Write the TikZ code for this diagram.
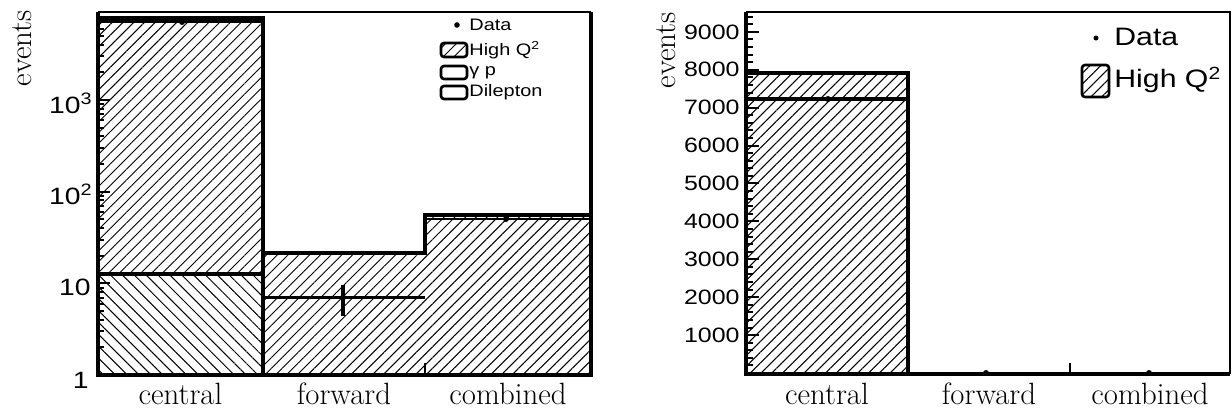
\documentclass[tikz,border=0pt]{standalone}
\usepackage{fontspec}
\newfontfamily\helv[FakeStretch=1.2]{Liberation Sans}
\usetikzlibrary{patterns.meta}
\tikzstyle{hist} = [line width=1.8pt]
\tikzstyle{thinline} = [line width=0.6pt]
\tikzstyle{tickline} = [line width=1pt]
\tikzstyle{hatchne} = [pattern={Lines[angle=45, distance=3.8pt, line width=0.5pt]}]
\tikzstyle{hatchnw} = [pattern={Lines[angle=-45, distance=4.2pt, line width=0.5pt]}]
\tikzstyle{binlabel} = [font=\fontsize{15.4}{18}\selectfont, anchor=base, inner sep=0pt]
\tikzstyle{axislabel} = [font=\fontsize{15.4}{18}\selectfont, rotate=90, anchor=base east, inner sep=0pt]
\tikzstyle{ticklabel} = [font=\helv\fontsize{11.8}{13}\selectfont, anchor=east, inner sep=0pt]
\tikzstyle{smalllegend} = [font=\helv\fontsize{8.3}{10}\selectfont, anchor=west, inner sep=0pt]
\tikzstyle{biglegend} = [font=\helv\fontsize{12.6}{14}\selectfont, anchor=west, inner sep=0pt]
\tikzstyle{legkey} = [draw, line width=1.3pt, rounded corners=1.5pt]
\tikzstyle{datadot} = [circle, fill=black, inner sep=0pt, minimum size=3pt]

\begin{document}
\begin{tikzpicture}[x=0.5pt, y=-0.5pt]
    \useasboundingbox (0,0) rectangle (1232,414);

    % Left panel: log scale
    \path[hatchnw] (98,375) rectangle (263,274);
    \path[hatchne] (98,274) rectangle (263,17.5);
    \path[hatchne] (263,375) rectangle (425,253);
    \path[hatchne] (425,375) rectangle (591,215);

    \draw[thinline] (98,12) -- (591,12);
    \draw[hist] (98,12) -- (98,375) -- (591,375) -- (591,12);
    \draw[hist] (98,17.5) -- (263,17.5) -- (263,375);
    \draw[hist] (263,253) -- (425,253) -- (425,215) -- (591,215);
    \draw[hist] (98,274) -- (263,274);
    \draw[thinline] (425,375) -- (425,363);

    % data, left
    \draw[hist] (98,21) -- (263,21);
    \draw[hist] (263,297.5) -- (425,297.5);
    \draw[hist] (343,285) -- (343,316);
    \draw[line width=1pt] (425,219) -- (591,219);
    \node[datadot] (lcentral) at (182,22) {};
    \node[datadot] (lforward) at (343,297.5) {};
    \node[datadot] (lcombined) at (506,219) {};

    % log ticks
    \foreach \d in {0,1,2,3}
        \draw[tickline] (98,{375-91.7*\d}) -- ++(12,0);
    \foreach \d in {0,1,2,3}
        \foreach \m in {2,...,9}
            \draw[tickline] (98,{375-91.7*(\d+log10(\m))}) -- ++(6,0);
    \node[ticklabel] (l1000) at (93,103) {10\textsuperscript{3}};
    \node[ticklabel] (l100) at (93,194) {10\textsuperscript{2}};
    \node[ticklabel] (l10) at (91,287) {10};
    \node[ticklabel] (l1) at (89,380) {1};

    \node[axislabel] (levents) at (32,10) {events};
    \node[binlabel] (lbin1) at (180.5,404) {central};
    \node[binlabel] (lbin2) at (344,404) {forward};
    \node[binlabel] (lbin3) at (508,404) {combined};

    % legend, left
    \node[datadot, minimum size=2.8pt] (ldatakey) at (457,25) {};
    \node[smalllegend] (ldata) at (469,25) {Data};
    \draw[legkey, hatchne] (441,43) rectangle (467,57);
    \node[smalllegend] (lhigh) at (469,50) {High Q\textsuperscript{2}};
    \draw[legkey] (441,66) rectangle (467,79);
    \node[smalllegend] (lgp) at (469,72.5) {γ p};
    \draw[legkey] (441,86) rectangle (467,99);
    \node[smalllegend] (ldil) at (469,92.5) {Dilepton};

    % Right panel: linear scale
    \path[hatchne] (746,374) rectangle (908,73);

    \draw[thinline] (746,12) -- (1230,12) -- (1230,374);
    \draw[hist] (746,12) -- (746,374) -- (1230,374);
    \draw[hist] (746,73) -- (908,73) -- (908,374);
    \draw[thinline] (1070,374) -- (1070,363);

    % data, right
    \draw[hist] (746,99) -- (908,99);
    \node[datadot] (rcentral) at (828,99) {};
    \node[datadot] (rforward) at (986,373) {};
    \node[datadot] (rcombined) at (1149,373) {};

    % linear ticks
    \foreach \v in {200,400,...,9400}
        \draw[tickline] (746,{373-0.0379*\v}) -- ++(7,0);
    \foreach \v in {1000,2000,...,9000} {
        \draw[tickline] (746,{373-0.0379*\v}) -- ++(13,0);
        \node[ticklabel, font=\helv\fontsize{10.4}{12}\selectfont] (r\v) at (740,{373-0.0379*\v}) {\v};
    }

    \node[axislabel] (revents) at (675,12) {events};
    \node[binlabel] (rbin1) at (827,404) {central};
    \node[binlabel] (rbin2) at (989,404) {forward};
    \node[binlabel] (rbin3) at (1150,404) {combined};

    % legend, right
    \node[datadot, minimum size=2.5pt] (rdatakey) at (1096,38) {};
    \node[biglegend] (rdata) at (1114,37) {Data};
    \draw[legkey, hatchne] (1082,65) rectangle (1109,97);
    \node[biglegend] (rhigh) at (1114,80) {High Q\textsuperscript{2}};
\end{tikzpicture}
\end{document}
